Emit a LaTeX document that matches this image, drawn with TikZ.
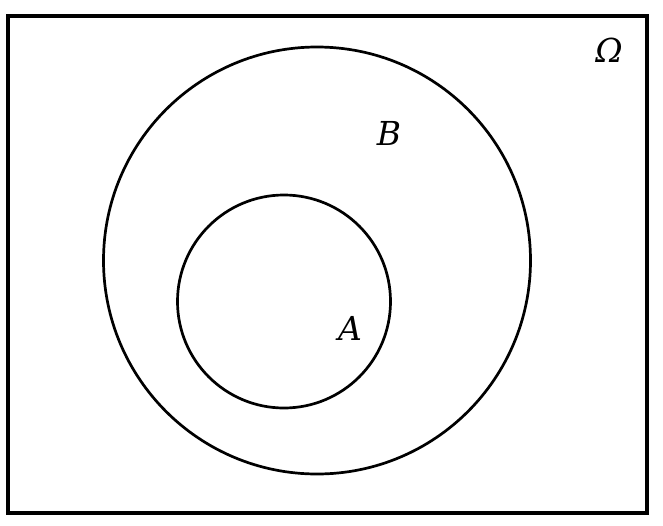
\documentclass[tikz,border=0pt]{standalone}
\usepackage{fontspec}
\setmainfont{DejaVu Serif}
\begin{document}
\begin{tikzpicture}[x=1pt,y=-1pt,
  setline/.style={draw=black,line width=2.7pt},
  lbl/.style={font=\fontsize{33}{38}\selectfont\itshape,inner sep=0pt}]
\useasboundingbox (0,0) rectangle (663,525);
\node[setline,line width=3.2pt,rectangle,minimum width=639pt,minimum height=497pt,inner sep=0pt] (omega) at (327.5,264.5) {};
\node[setline,circle,minimum size=427pt,inner sep=0pt] (B) at (317,260.5) {};
\node[setline,circle,minimum size=213pt,inner sep=0pt] (A) at (284,301.5) {};
\node[lbl] (lo) at (609,50) {Ω};
\node[lbl] (lb) at (389,133) {B};
\node[lbl] (la) at (350,328) {A};
\end{tikzpicture}
\end{document}
